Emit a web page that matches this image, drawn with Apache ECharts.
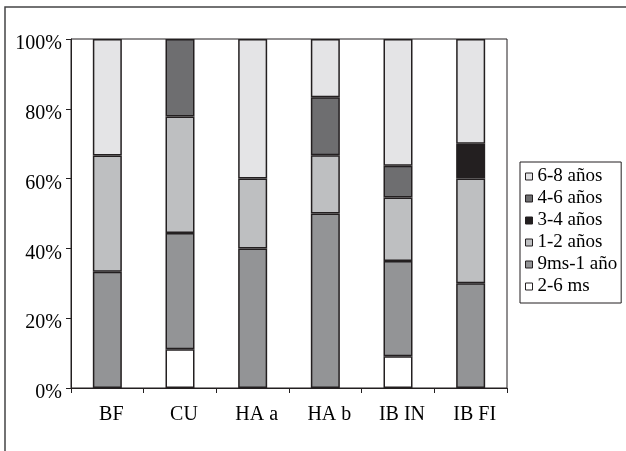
<!DOCTYPE html>
<html>
<head>
<meta charset="utf-8">
<script src="https://cdn.jsdelivr.net/npm/echarts@6/dist/echarts.min.js"></script>
<style>
  html, body { margin: 0; padding: 0; background: #fff; }
  #chart { width: 626px; height: 451px; }
</style>
</head>
<body>
<div id="chart"></div>
<script>
// Categories along the x axis
const categories = ['BF', 'CU', 'HA a', 'HA b', 'IB IN', 'IB FI'];

// Share of each age group per category (percent of column); null = absent
const s2a6ms   = [null, 11.1, null, null, 9.1, null];
const s9msA1   = [33.3, 33.3, 40.0, 50.0, 27.3, 30.0];
const s1a2     = [33.3, 33.4, 20.0, 16.7, 18.2, 30.0];
const s3a4     = [null, null, null, null, null, 10.0];
const s4a6     = [null, 22.2, null, 16.6, 9.1, null];
const s6a8     = [33.4, null, 40.0, 16.7, 36.3, 30.0];

// Value-axis ticks
const yTicks = [0, 20, 40, 60, 80, 100];

const seriesDefs = [
  { name: '2-6 ms',     data: s2a6ms, color: '#ffffff' },
  { name: '9ms-1 año',  data: s9msA1, color: '#939496' },
  { name: '1-2 años',   data: s1a2,   color: '#bebfc1' },
  { name: '3-4 años',   data: s3a4,   color: '#231f20' },
  { name: '4-6 años',   data: s4a6,   color: '#6e6e70' },
  { name: '6-8 años',   data: s6a8,   color: '#e4e4e6' }
];

const ink = '#231f20';
const font = 'Liberation Serif';

const chart = echarts.init(document.getElementById('chart'), null, { renderer: 'canvas' });

chart.setOption({
  animation: false,
  backgroundColor: '#ffffff',
  graphic: [
    {
      type: 'rect',
      shape: { x: 5, y: 7, width: 700, height: 500 },
      style: { fill: 'none', stroke: '#444446', lineWidth: 1.5 },
      silent: true,
      z: 0
    }
  ],
  grid: {
    left: 71, top: 39, right: 119, bottom: 63,
    show: true, borderColor: ink, borderWidth: 1, backgroundColor: 'transparent'
  },
  legend: {
    orient: 'vertical',
    left: 520, top: 162,
    data: seriesDefs.map(s => s.name).reverse(),
    icon: 'rect',
    itemWidth: 7, itemHeight: 7, itemGap: 3,
    borderColor: ink, borderWidth: 1,
    padding: [5, 4, 7, 5],
    itemStyle: { borderColor: ink, borderWidth: 1 },
    textStyle: { fontFamily: font, fontSize: 19, color: '#000' }
  },
  xAxis: {
    type: 'category',
    data: categories,
    axisLine: { lineStyle: { color: ink, width: 1 } },
    axisTick: { show: true, length: 5, inside: false, lineStyle: { color: ink } },
    axisLabel: {
      interval: 0, margin: 17, color: '#000',
      fontFamily: font, fontSize: 20,
      padding: [0, 0, 0, 8]
    },
    splitLine: { show: false }
  },
  yAxis: {
    type: 'value',
    min: 0, max: 100, interval: 20,
    axisLine: { show: true, lineStyle: { color: ink, width: 1 } },
    axisTick: { show: true, length: 5, lineStyle: { color: ink } },
    axisLabel: {
      margin: 9, color: '#000', fontFamily: font, fontSize: 20,
      verticalAlign: 'top', lineHeight: 10,
      formatter: v => (yTicks.includes(v) ? v + '%' : '')
    },
    splitLine: { show: false }
  },
  series: seriesDefs.map(s => ({
    type: 'bar',
    name: s.name,
    stack: 'total',
    barWidth: 29,
    data: s.data,
    itemStyle: { color: s.color, borderColor: ink, borderWidth: 1.5 }
  }))
});
</script>
</body>
</html>
